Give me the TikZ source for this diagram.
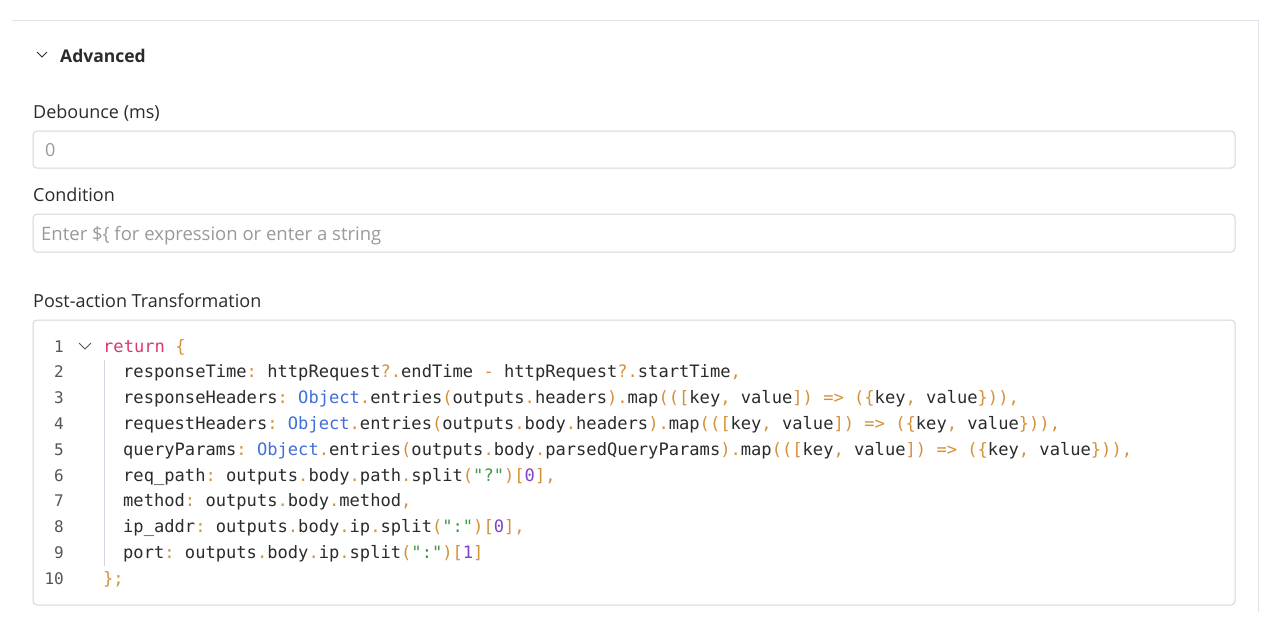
\documentclass[tikz,border=0pt]{standalone}
\usepackage{fontspec}
\setmainfont{Open Sans}
\setmonofont{DejaVu Sans Mono}
\definecolor{bord}{HTML}{D3D6E0}
\definecolor{txt}{HTML}{2B2B2B}
\definecolor{ph}{HTML}{9A9A9A}
\definecolor{pun}{HTML}{D4913A}
\definecolor{kw}{HTML}{D63B6C}
\definecolor{obj}{HTML}{3F6FD8}
\definecolor{num}{HTML}{7B45C8}
\definecolor{str}{HTML}{3C9A4E}
\definecolor{lnum}{HTML}{555555}
\newcommand\Pu[1]{\textcolor{pun}{#1}}
\newcommand\Ob[1]{\textcolor{obj}{#1}}
\newcommand\Nm[1]{\textcolor{num}{#1}}
\newcommand\St[1]{\textcolor{str}{#1}}
\newcommand\KVmap{\Pu{.}map\Pu{(([}key\Pu{,} value\Pu{])} \Pu{=>} \Pu{(\{}key\Pu{,} value\Pu{\}))}}
\begin{document}
\begin{tikzpicture}[x=1pt,y=-1pt,
  lab/.style={anchor=base west,inner sep=0pt,font=\fontsize{18}{20}\selectfont,text=txt},
  field/.style={draw=bord,line width=1pt,rounded corners=4pt},
  code/.style={anchor=base west,inner sep=0pt,font=\ttfamily\fontsize{17.1}{18}\selectfont,text=txt},
  ln/.style={anchor=base east,inner sep=0pt,font=\ttfamily\fontsize{16}{18}\selectfont,text=lnum}]
\useasboundingbox (0,0) rectangle (1274,638);
\fill[white] (0,0) rectangle (1274,638);
\draw[bord!70,line width=1pt] (12,20) -- (1258,20);
\draw[bord!70,line width=1pt] (1258,20) -- (1258,612);
\draw[txt,line width=0.9pt] (37,52) -- (42,57) -- (47,52);
\node[lab,font=\bfseries\fontsize{17.5}{20}\selectfont] (adv) at (60,62) {Advanced};
\node[lab] (deb) at (33,118) {Debounce (ms)};
\draw[field] (33,131) rectangle (1235,168);
\node[lab,text=ph] (zero) at (45,156) {0};
\node[lab] (cond) at (33,201) {Condition};
\draw[field] (33,214) rectangle (1235,252);
\node[lab,text=ph,font=\fontsize{18.5}{20}\selectfont] (phc) at (41,240) {Enter \$\{ for expression or enter a string};
\node[lab] (post) at (33,307) {Post-action Transformation};
\draw[field] (33,320) rectangle (1235,605);
\draw[bord,line width=1pt] (104,360) -- (104,566);
\draw[lnum,line width=0.9pt] (79,343) -- (85,349) -- (91,343);
\foreach \i/\y in {1/352,2/377,3/403,4/429,5/455,6/481,7/506,8/532,9/558,10/584}
  \node[ln] (n\i) at (64,\y) {\i};
\node[code] (c1) at (103,352) {\textcolor{kw}{return} \Pu{\{}};
\node[code] (c2) at (123,377) {responseTime\Pu{:} httpRequest\Pu{?.}endTime \Pu{-} httpRequest\Pu{?.}startTime\Pu{,}};
\node[code] (c3) at (123,403) {responseHeaders\Pu{:} \Ob{Object}\Pu{.}entries\Pu{(}outputs\Pu{.}headers\Pu{)}\KVmap\Pu{,}};
\node[code] (c4) at (123,429) {requestHeaders\Pu{:} \Ob{Object}\Pu{.}entries\Pu{(}outputs\Pu{.}body\Pu{.}headers\Pu{)}\KVmap\Pu{,}};
\node[code] (c5) at (123,455) {queryParams\Pu{:} \Ob{Object}\Pu{.}entries\Pu{(}outputs\Pu{.}body\Pu{.}parsedQueryParams\Pu{)}\KVmap\Pu{,}};
\node[code] (c6) at (123,481) {req\_path\Pu{:} outputs\Pu{.}body\Pu{.}path\Pu{.}split\Pu{(}\St{"?"}\Pu{)[}\Nm{0}\Pu{],}};
\node[code] (c7) at (123,506) {method\Pu{:} outputs\Pu{.}body\Pu{.}method\Pu{,}};
\node[code] (c8) at (123,532) {ip\_addr\Pu{:} outputs\Pu{.}body\Pu{.}ip\Pu{.}split\Pu{(}\St{":"}\Pu{)[}\Nm{0}\Pu{],}};
\node[code] (c9) at (123,558) {port\Pu{:} outputs\Pu{.}body\Pu{.}ip\Pu{.}split\Pu{(}\St{":"}\Pu{)[}\Nm{1}\Pu{]}};
\node[code] (c10) at (103,584) {\Pu{\};}};
\end{tikzpicture}
\end{document}
